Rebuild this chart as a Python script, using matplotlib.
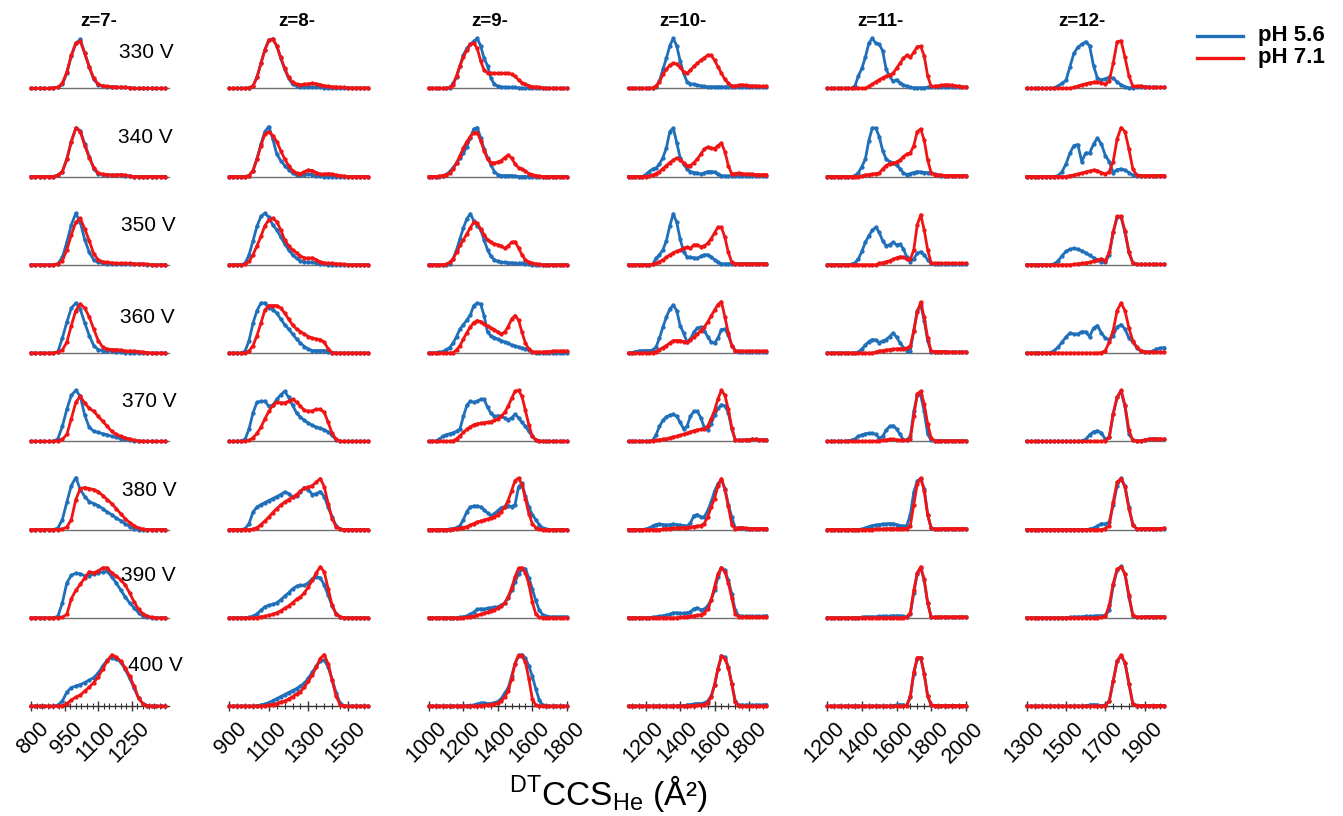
import matplotlib
matplotlib.use("Agg")
import matplotlib.pyplot as plt
from matplotlib.lines import Line2D
from matplotlib.ticker import FixedLocator
import matplotlib.transforms as mtransforms
import numpy as np

plt.rcParams['font.family'] = ['Liberation Sans', 'DejaVu Sans']
plt.rcParams['mathtext.fontset'] = 'custom'
plt.rcParams['mathtext.rm'] = 'Liberation Sans'

# labels
voltages = ['330 V', '340 V', '350 V', '360 V', '370 V', '380 V', '390 V', '400 V']
charges = ['z=7-', 'z=8-', 'z=9-', 'z=10-', 'z=11-', 'z=12-']
series_names = ['pH 5.6', 'pH 7.1']

# CCS sampling (A^2) for each charge state
ccs_z7 = [800, 820, 840, 860, 880, 900, 920, 940, 960, 980, 1000, 1020, 1040, 1060, 1080, 1100,
          1120, 1140, 1160, 1180, 1200, 1220, 1240, 1260, 1280, 1300, 1320, 1340, 1360, 1380, 1400]
ccs_z8 = [900, 920, 940, 960, 980, 1000, 1020, 1040, 1060, 1080, 1100, 1120, 1140, 1160, 1180, 1200,
          1220, 1240, 1260, 1280, 1300, 1320, 1340, 1360, 1380, 1400, 1420, 1440, 1460, 1480, 1500,
          1520, 1540, 1560, 1580, 1600]
ccs_z9 = [1000, 1020, 1040, 1060, 1080, 1100, 1120, 1140, 1160, 1180, 1200, 1220, 1240, 1260, 1280,
          1300, 1320, 1340, 1360, 1380, 1400, 1420, 1440, 1460, 1480, 1500, 1520, 1540, 1560, 1580,
          1600, 1620, 1640, 1660, 1680, 1700, 1720, 1740, 1760, 1780, 1800]
ccs_z10 = [1100, 1120, 1140, 1160, 1180, 1200, 1220, 1240, 1260, 1280, 1300, 1320, 1340, 1360, 1380,
           1400, 1420, 1440, 1460, 1480, 1500, 1520, 1540, 1560, 1580, 1600, 1620, 1640, 1660, 1680,
           1700, 1720, 1740, 1760, 1780, 1800, 1820, 1840, 1860, 1880, 1900]
ccs_z11 = [1200, 1220, 1240, 1260, 1280, 1300, 1320, 1340, 1360, 1380, 1400, 1420, 1440, 1460, 1480,
           1500, 1520, 1540, 1560, 1580, 1600, 1620, 1640, 1660, 1680, 1700, 1720, 1740, 1760, 1780,
           1800, 1820, 1840, 1860, 1880, 1900, 1920, 1940, 1960, 1980, 2000]
ccs_z12 = [1300, 1320, 1340, 1360, 1380, 1400, 1420, 1440, 1460, 1480, 1500, 1520, 1540, 1560, 1580,
           1600, 1620, 1640, 1660, 1680, 1700, 1720, 1740, 1760, 1780, 1800, 1820, 1840, 1860, 1880,
           1900, 1920, 1940, 1960, 1980, 2000]

# relative intensity, one list per voltage (330 ... 400 V)
z7_ph56 = [
    [0,0,0,0,0,.01,.02,.08,.3,.65,.9,.98,.7,.42,.18,.07,.04,.03,.03,.02,.02,.02,.01,0,0,0,0,0,0,0,0],
    [0,0,0,0,0,0,.03,.1,.35,.7,.97,.92,.65,.4,.16,.05,.04,.03,.03,.03,.03,.02,.01,0,0,0,0,0,0,0,0],
    [0,0,0,0,0,0,.02,.15,.45,.8,1.03,.85,.5,.25,.1,.05,.03,.02,.02,.02,.02,.02,.01,.01,.01,.01,0,0,0,0,0],
    [0,0,0,0,0,0,.03,.3,.62,.9,1.0,.88,.6,.35,.15,.07,.05,.04,.04,.03,.02,.01,0,0,0,0,0,0,0,0,0],
    [0,0,0,0,0,0,.05,.3,.64,.92,1.02,.9,.52,.28,.2,.18,.15,.13,.1,.08,.05,.04,.03,.01,0,0,0,0,0,0,0],
    [0,0,0,0,0,0,.03,.2,.55,.88,1.04,.8,.66,.56,.52,.48,.42,.35,.3,.23,.18,.12,.06,.02,0,0,0,0,0,0,0],
    [0,0,0,0,0,0,.03,.3,.7,.85,.89,.88,.84,.84,.88,.9,.92,.93,.82,.7,.56,.42,.3,.2,.1,.03,.01,0,0,0,0],
    [0,0,0,0,0,0,.02,.1,.28,.37,.4,.43,.47,.52,.57,.66,.8,.92,.97,.95,.88,.74,.56,.36,.16,.05,.01,0,0,0,0],
]
z7_ph71 = [
    [0,0,0,0,0,.01,.02,.1,.33,.66,.9,.94,.7,.43,.2,.08,.05,.04,.03,.03,.02,.02,.01,0,0,0,0,0,0,0,0],
    [0,0,0,0,0,0,.03,.1,.35,.7,.97,.9,.62,.38,.18,.07,.05,.04,.03,.03,.04,.03,.01,0,0,0,0,0,0,0,0],
    [0,0,0,0,0,0,.02,.08,.3,.6,.85,.93,.72,.48,.22,.1,.06,.05,.04,.03,.03,.03,.03,.02,.02,.02,.01,0,0,0,0],
    [0,0,0,0,0,0,.02,.06,.22,.55,.85,.98,.9,.72,.48,.25,.12,.08,.07,.07,.06,.04,.04,.04,.03,.02,.01,0,0,0,0],
    [0,0,0,0,0,0,.01,.04,.14,.45,.78,.9,.76,.66,.6,.5,.4,.3,.2,.14,.1,.07,.05,.02,.01,0,0,0,0,0,0],
    [0,0,0,0,0,0,0,.01,.05,.2,.6,.82,.84,.82,.8,.76,.68,.6,.52,.42,.32,.22,.14,.08,.03,.01,0,0,0,0,0],
    [0,0,0,0,0,0,0,.01,.07,.38,.55,.67,.8,.92,.9,.94,1.0,1.0,.9,.84,.76,.66,.5,.32,.17,.08,.03,.01,0,0,0],
    [0,0,0,0,0,0,0,.01,.05,.12,.18,.22,.3,.38,.47,.58,.74,.9,1.02,.98,.9,.77,.6,.4,.16,.04,.01,0,0,0,0],
]

z8_ph56 = [
    [0,0,0,0,0,.01,.05,.22,.5,.77,.97,.99,.85,.6,.38,.2,.08,.05,.03,.02,.03,.03,.02,.02,.01,0,0,0,0,0,0,0,0,0,0,0],
    [0,0,0,0,0,.02,.12,.36,.65,.9,1.0,.75,.45,.32,.22,.14,.07,.03,.03,.04,.05,.04,.02,.01,0,0,0,0,0,0,0,0,0,0,0,0],
    [0,0,0,0,.03,.2,.48,.77,.97,1.03,.95,.8,.7,.56,.42,.3,.2,.13,.08,.06,.05,.05,.03,.02,.01,0,0,0,0,0,0,0,0,0,0,0],
    [0,0,0,0,.04,.25,.6,.85,1.0,1.0,.9,.87,.8,.68,.57,.48,.38,.28,.2,.13,.08,.05,.05,.05,.05,.03,.01,0,0,0,0,0,0,0,0,0],
    [0,0,0,.01,.04,.25,.57,.78,.8,.8,.7,.72,.84,.93,1.0,.88,.72,.57,.48,.42,.36,.32,.28,.26,.23,.19,.12,.03,0,0,0,0,0,0,0,0],
    [0,0,0,0,.02,.12,.35,.45,.5,.54,.58,.62,.66,.7,.75,.72,.65,.68,.76,.84,.8,.7,.72,.76,.66,.45,.25,.08,.01,0,0,0,0,0,0,0],
    [0,0,0,0,0,.01,.03,.08,.15,.22,.25,.27,.3,.36,.43,.5,.58,.63,.65,.65,.7,.78,.82,.8,.66,.45,.24,.08,.02,0,0,0,0,0,0,0],
    [0,0,0,0,0,0,0,.01,.02,.04,.07,.11,.15,.19,.23,.27,.31,.35,.4,.46,.56,.68,.8,.9,.92,.78,.53,.27,.06,.01,0,0,0,0,0,0],
]
z8_ph71 = [
    [0,0,0,0,0,.01,.05,.22,.5,.77,.96,.98,.85,.62,.4,.22,.12,.08,.07,.08,.09,.1,.09,.07,.05,.04,.03,.03,.02,.02,.01,.01,.01,.01,.01,.01],
    [0,0,0,0,0,.02,.12,.35,.62,.85,.9,.82,.7,.52,.35,.22,.12,.07,.06,.1,.13,.12,.08,.05,.05,.06,.05,.03,.02,.01,0,0,0,0,0,0],
    [0,0,0,0,.01,.07,.2,.38,.57,.78,.9,.93,.86,.7,.5,.38,.3,.24,.17,.14,.13,.14,.1,.06,.04,.03,.03,.02,.02,.01,0,0,0,0,0,0],
    [0,0,0,0,0,.04,.15,.35,.6,.86,.95,.95,.95,.9,.8,.68,.56,.48,.43,.38,.33,.3,.28,.27,.22,.08,.01,0,0,0,0,0,0,0,0,0],
    [0,0,0,0,0,.02,.07,.16,.28,.45,.6,.72,.78,.77,.77,.8,.84,.78,.7,.62,.6,.61,.64,.64,.58,.38,.16,.04,0,0,0,0,0,0,0,0],
    [0,0,0,0,0,0,.01,.04,.1,.17,.25,.34,.42,.49,.55,.6,.65,.7,.77,.83,.85,.88,.95,1.02,.86,.52,.22,.06,.01,0,0,0,0,0,0,0],
    [0,0,0,0,0,0,0,0,.02,.03,.05,.07,.1,.14,.19,.24,.3,.37,.42,.5,.62,.75,.9,1.02,.92,.58,.25,.08,.02,0,0,0,0,0,0,0],
    [0,0,0,0,0,0,0,0,0,.01,.02,.03,.05,.08,.1,.14,.19,.24,.29,.38,.5,.62,.78,.95,1.03,.84,.52,.2,.03,0,0,0,0,0,0,0],
]

z9_ph56 = [
    [0,0,0,0,0,0,.01,.1,.23,.45,.67,.8,.88,.94,1.0,.85,.6,.45,.2,.08,.04,.03,.02,.02,.02,.02,.01,0,0,0,0,0,0,0,0,0,0,0,0,0,0],
    [0,0,0,0,.01,.04,.1,.18,.27,.37,.47,.6,.78,.95,.98,.78,.55,.38,.23,.1,.04,.02,.02,.02,.02,.01,0,0,0,0,0,0,0,0,0,0,0,0,0,0,0],
    [0,0,0,0,0,0,.02,.12,.3,.52,.74,.92,1.02,.88,.78,.7,.5,.3,.17,.1,.07,.05,.05,.04,.04,.03,.03,.03,.02,.01,0,0,0,0,0,0,0,0,0,0,0],
    [0,0,.01,.02,.03,.07,.11,.2,.33,.48,.57,.66,.76,.95,1.0,.98,.75,.42,.34,.31,.28,.25,.22,.2,.16,.14,.12,.1,.09,.06,.02,.01,0,0,0,0,0,0,0,0,0],
    [0,0,.01,.04,.1,.13,.15,.17,.2,.25,.5,.72,.8,.78,.8,.84,.84,.68,.56,.5,.51,.5,.47,.43,.47,.54,.47,.38,.3,.2,.1,.03,.01,0,0,0,0,0,0,0,0],
    [0,0,0,0,0,0,.01,.02,.04,.08,.2,.36,.45,.47,.47,.45,.4,.33,.28,.32,.38,.44,.46,.48,.46,.5,.85,.93,.67,.45,.3,.2,.1,.03,.01,0,0,0,0,0,0],
    [0,0,0,0,0,0,0,0,0,.01,.02,.04,.07,.11,.17,.18,.17,.19,.2,.21,.22,.25,.3,.4,.55,.72,.88,.97,.98,.8,.58,.35,.16,.06,.03,.02,.02,.02,.02,.02,.02],
    [0,0,0,0,0,0,0,0,0,0,0,.01,.01,.02,.04,.06,.06,.05,.05,.07,.09,.15,.26,.36,.6,.85,1.0,1.03,.96,.8,.6,.35,.13,.02,.01,0,0,0,0,0,0],
]
z9_ph71 = [
    [0,0,0,0,0,0,.02,.07,.25,.45,.63,.76,.88,.9,.8,.55,.36,.31,.3,.3,.3,.3,.3,.3,.28,.24,.17,.11,.08,.05,.03,.03,.02,.01,0,0,0,0,0,0,0],
    [0,0,0,.01,.02,.04,.07,.15,.27,.42,.57,.7,.8,.88,.88,.72,.52,.35,.28,.27,.29,.32,.38,.43,.37,.25,.18,.15,.11,.06,.04,.02,.01,0,0,0,0,0,0,0,0],
    [0,0,0,0,0,.01,.05,.12,.25,.39,.5,.62,.74,.85,.83,.72,.6,.5,.45,.42,.4,.38,.33,.38,.45,.46,.34,.2,.1,.05,.03,.02,.01,0,0,0,0,0,0,0,0],
    [0,0,0,0,0,0,0,.01,.06,.15,.28,.41,.52,.61,.65,.63,.58,.54,.5,.47,.42,.38,.42,.53,.68,.75,.66,.42,.2,.08,.03,.02,.02,.02,.03,.03,.04,.04,.04,.04,.04],
    [0,0,0,0,0,0,0,.01,.05,.11,.18,.24,.29,.33,.35,.36,.37,.38,.39,.42,.45,.5,.58,.7,.86,1.0,1.02,.9,.62,.33,.1,.03,.01,0,0,0,0,0,0,0,0],
    [0,0,0,0,0,0,0,.01,.02,.03,.04,.06,.09,.12,.15,.17,.19,.21,.23,.26,.3,.36,.45,.58,.78,.98,1.03,.9,.62,.32,.12,.04,.01,0,0,0,0,0,0,0,0],
    [0,0,0,0,0,0,0,0,0,0,0,.01,.02,.03,.05,.07,.09,.11,.14,.16,.2,.23,.3,.42,.6,.82,.99,1.0,.9,.68,.32,.08,.01,0,0,0,0,0,0,0,0],
    [0,0,0,0,0,0,0,0,0,0,0,0,0,0,0,.01,.02,.02,.03,.04,.06,.11,.18,.3,.55,.85,1.02,1.0,.88,.55,.15,.02,0,0,0,0,0,0,0,0,0],
]

z10_ph56 = [
    [0,0,0,0,0,0,0,0,.02,.15,.38,.6,.85,1.0,.85,.55,.3,.13,.09,.08,.06,.05,.04,.03,.03,.03,.03,.03,.03,.03,.03,.03,.03,.03,.02,.02,.02,.02,.02,.02,.02],
    [0,0,0,0,0,.04,.1,.15,.17,.25,.38,.57,.9,.97,.68,.38,.25,.15,.1,.08,.07,.05,.07,.1,.1,.09,.05,.02,.01,.01,.01,.01,.01,.01,.01,.01,.01,.01,.01,.01,.01],
    [0,0,0,0,0,0,0,.01,.13,.2,.3,.48,.78,1.02,.85,.52,.26,.16,.15,.14,.13,.17,.2,.2,.16,.1,.05,.02,.02,.02,.02,.02,.02,.02,.02,.02,.02,.02,.02,.02,.02],
    [0,.01,.03,.04,.05,.05,.05,.06,.12,.3,.52,.72,.88,.96,.85,.55,.4,.22,.28,.42,.5,.52,.45,.33,.22,.2,.3,.47,.48,.36,.15,.05,.03,.03,.03,.03,.03,.03,.03,.03,.03],
    [0,0,0,0,0,0,0,.02,.13,.3,.42,.49,.52,.54,.5,.38,.25,.3,.5,.6,.6,.47,.28,.23,.35,.52,.66,.73,.71,.57,.25,.03,.02,.02,.03,.03,.04,.04,.03,.03,.03],
    [0,0,0,0,0,.01,.03,.07,.1,.11,.1,.09,.1,.11,.1,.09,.08,.07,.13,.28,.3,.25,.25,.38,.55,.77,.92,1.0,.82,.5,.25,.03,.03,.03,.02,.02,.02,.02,.02,.02,.02],
    [0,0,0,0,0,0,0,.01,.02,.03,.04,.05,.07,.1,.1,.09,.09,.1,.12,.18,.2,.16,.17,.24,.36,.55,.82,1.0,.95,.75,.48,.15,.04,.03,.03,.03,.03,.03,.03,.03,.04],
    [0,0,0,0,0,0,0,0,0,0,0,0,0,0,0,.01,.01,.02,.03,.04,.05,.05,.06,.1,.2,.42,.75,1.0,.98,.78,.45,.1,.02,.02,.02,.02,.02,.02,.02,.02,.03],
]
z10_ph71 = [
    [0,0,0,0,0,0,0,.01,.05,.13,.28,.38,.46,.5,.49,.42,.33,.3,.36,.44,.5,.56,.61,.66,.66,.56,.43,.3,.18,.1,.05,.05,.06,.07,.06,.05,.05,.05,.04,.04,.04],
    [0,0,0,0,0,0,.01,.03,.06,.1,.16,.22,.28,.33,.37,.34,.27,.22,.22,.28,.35,.45,.55,.59,.57,.56,.62,.67,.5,.22,.05,.06,.07,.06,.05,.05,.05,.04,.04,.04,.04],
    [0,0,0,0,0,0,0,.01,.03,.06,.1,.15,.2,.24,.27,.29,.33,.35,.33,.4,.4,.36,.38,.43,.52,.64,.75,.75,.55,.25,.05,.02,.02,.02,.02,.02,.02,.02,.02,.02,.02],
    [0,0,0,0,0,0,0,.01,.03,.07,.11,.15,.2,.25,.25,.25,.23,.22,.26,.32,.38,.45,.52,.62,.74,.86,.97,1.03,.72,.4,.15,.05,.04,.04,.04,.04,.04,.04,.04,.04,.04],
    [0,0,0,0,0,0,0,.01,.02,.03,.04,.05,.07,.09,.1,.12,.14,.16,.19,.21,.23,.24,.24,.3,.45,.62,.85,1.02,.92,.64,.27,.03,.02,.02,.03,.03,.04,.04,.03,.03,.03],
    [0,0,0,0,0,0,0,0,0,0,.01,.02,.02,.03,.03,.03,.04,.04,.05,.06,.07,.08,.12,.25,.45,.62,.88,1.02,.8,.47,.1,.02,.04,.04,.03,.02,.02,.02,.02,.02,.02],
    [0,0,0,0,0,0,0,0,0,0,0,0,0,0,0,.01,.02,.02,.03,.04,.05,.06,.1,.17,.35,.62,.88,1.0,.92,.7,.4,.08,.02,.02,.02,.02,.02,.02,.02,.02,.02],
    [0,0,0,0,0,0,0,0,0,0,0,0,0,0,0,0,0,0,.01,.01,.02,.02,.03,.07,.18,.42,.75,1.0,.95,.77,.45,.08,.01,0,0,0,0,0,0,0,0],
]

z11_ph56 = [
    [0,0,0,0,0,0,0,0,.05,.25,.4,.62,.9,1.0,.9,.88,.75,.38,.24,.14,.17,.11,.07,.04,.02,.01,.01,.01,.01,.02,.03,.03,.03,.03,.02,.02,.02,.02,.02,.02,.02],
    [0,0,0,0,0,0,0,0,.02,.08,.2,.35,.72,.97,.97,.8,.52,.35,.3,.27,.23,.16,.07,.04,.06,.08,.1,.09,.08,.08,.07,.05,.03,.02,.01,.01,.01,.01,.01,.01,.01],
    [0,0,0,0,0,0,0,.01,.04,.12,.27,.45,.58,.69,.75,.65,.48,.38,.4,.45,.4,.41,.32,.15,.06,.12,.23,.26,.2,.1,.03,.01,.02,.02,.02,.02,.02,.02,.02,.02,.02],
    [0,0,0,0,0,0,0,0,0,.02,.08,.16,.23,.27,.26,.21,.24,.27,.33,.4,.32,.21,.11,.05,.05,.45,.85,.96,.65,.25,.03,.02,.02,.02,.02,.02,.02,.02,.02,.02,.02],
    [0,0,0,0,0,0,.01,.02,.05,.1,.13,.15,.16,.16,.14,.06,.1,.22,.3,.31,.25,.14,.03,.03,.1,.6,.92,.92,.6,.15,.02,.01,.01,.01,.01,.01,.01,.01,.01,.01,.01],
    [0,0,0,0,0,0,0,0,0,0,.01,.03,.06,.08,.09,.1,.11,.11,.12,.12,.1,.08,.07,.08,.3,.75,.97,1.02,.82,.3,.03,.01,.01,.01,.01,.01,.01,.01,.01,.01,.01],
    [0,0,0,0,0,0,0,0,0,0,.01,.02,.02,.02,.02,.03,.03,.03,.03,.04,.04,.04,.03,.02,.08,.5,.88,1.0,.75,.3,.02,.01,.01,.01,.01,.01,.01,.01,.01,.01,.01],
    [0,0,0,0,0,0,0,0,0,0,0,0,0,0,0,0,0,0,0,.01,.02,.03,.02,.02,.18,.65,.95,.97,.65,.2,.02,.01,.01,.01,.01,.01,.01,.01,.01,.01,.01],
]
z11_ph71 = [
    [0,0,0,0,0,0,0,0,0,0,0,0,.04,.08,.13,.17,.21,.24,.26,.3,.4,.5,.6,.66,.62,.72,.83,.84,.65,.25,.04,.04,.05,.06,.07,.07,.06,.05,.04,.03,.03],
    [0,0,0,0,0,0,0,0,0,0,.01,.03,.04,.05,.06,.07,.15,.22,.26,.27,.29,.33,.4,.45,.47,.62,.9,.95,.73,.33,.08,.04,.03,.03,.02,.02,.02,.02,.02,.02,.02],
    [0,0,0,0,0,0,0,0,0,0,0,0,0,0,0,.03,.04,.06,.08,.11,.14,.16,.15,.11,.11,.3,.8,1.0,.7,.3,.04,.03,.03,.03,.03,.03,.03,.03,.03,.03,.03],
    [0,0,0,0,0,0,0,0,0,0,0,0,0,0,.02,.04,.05,.06,.07,.08,.08,.09,.09,.1,.14,.45,.82,1.02,.72,.3,.04,.03,.03,.03,.03,.02,.02,.02,.02,.02,.02],
    [0,0,0,0,0,0,0,0,0,0,0,0,0,0,0,.01,.02,.03,.04,.04,.03,.02,.02,.02,.05,.5,.95,1.0,.75,.35,.07,.01,.01,.01,.01,.01,.01,.01,.01,.01,.01],
    [0,0,0,0,0,0,0,0,0,0,0,0,0,0,.01,.01,.01,.02,.02,.02,.02,.02,.02,.02,.08,.5,.92,1.03,.78,.3,.03,.01,.01,.02,.02,.02,.02,.02,.02,.02,.02],
    [0,0,0,0,0,0,0,0,0,0,0,0,0,0,0,0,0,0,0,0,0,0,0,.02,.1,.55,.9,1.02,.77,.3,.02,.01,.02,.02,.02,.02,.02,.02,.02,.02,.02],
    [0,0,0,0,0,0,0,0,0,0,0,0,0,0,0,0,0,0,0,0,0,0,0,.01,.2,.68,.97,.97,.65,.2,.03,.01,.01,.01,.01,.01,.01,.01,.01,.01,.01],
]

z12_ph56 = [
    [0,0,0,0,0,0,0,.01,.05,.1,.16,.43,.7,.82,.88,.93,.85,.45,.2,.17,.19,.22,.2,.13,.07,.03,.01,.01,.02,.03,.03,.03,.02,.02,.02,.02],
    [0,0,0,0,0,0,0,0,.02,.1,.25,.47,.62,.64,.3,.47,.47,.65,.77,.65,.42,.3,.08,.14,.15,.13,.08,.03,.01,.01,.01,.01,.01,.01,.01,.01],
    [0,0,0,0,0,0,0,.02,.08,.18,.27,.31,.33,.31,.28,.24,.19,.14,.09,.06,.05,.2,.65,.95,.95,.65,.25,.04,.01,.01,.01,.01,.01,.01,.01,.01],
    [0,0,0,0,0,0,.01,.05,.12,.22,.32,.4,.38,.38,.43,.42,.33,.5,.55,.4,.3,.27,.35,.52,.57,.48,.3,.22,.11,.04,.02,.02,.04,.08,.1,.11],
    [0,0,0,0,0,0,0,0,0,0,0,0,0,0,.01,.04,.13,.19,.21,.17,.04,.08,.55,.88,1.0,.7,.15,.02,.01,.01,.02,.04,.05,.05,.04,.04],
    [0,0,0,0,0,0,0,0,0,0,0,0,0,0,0,0,.01,.03,.07,.12,.11,.15,.5,.87,1.03,.87,.45,.1,.01,.01,.02,.02,.02,.02,.02,.02],
    [0,0,0,0,0,0,0,0,0,0,0,.01,.02,.02,.02,.03,.03,.03,.04,.04,.05,.15,.65,.95,1.03,.88,.42,.04,.01,.01,.02,.02,.02,.02,.02,.02],
    [0,0,0,0,0,0,0,0,0,0,0,0,0,0,0,.01,.02,.03,.02,.01,.02,.1,.5,.9,1.0,.87,.45,.04,.01,.01,.01,.01,.01,.01,.01,.01],
]
z12_ph71 = [
    [0,0,0,0,0,0,0,0,0,0,0,0,.02,.04,.07,.09,.11,.12,.13,.11,.08,.15,.5,.93,.95,.62,.25,.04,.04,.05,.03,.02,.02,.02,.02,.02],
    [0,0,0,0,0,0,0,0,0,0,0,.02,.03,.05,.07,.09,.11,.13,.12,.08,.05,.1,.3,.75,.98,.9,.55,.15,.03,.02,.02,.02,.02,.02,.02,.02],
    [0,0,0,0,0,0,0,0,0,0,0,0,.01,.02,.03,.04,.05,.07,.09,.12,.08,.25,.65,.97,.97,.68,.25,.03,.01,.01,.01,.01,.01,.01,.01,.01],
    [0,0,0,0,0,0,0,0,0,0,0,0,0,0,0,0,0,0,0,.01,.05,.22,.45,.85,1.0,.85,.5,.24,.12,.05,.03,.02,.02,.02,.02,.02],
    [0,0,0,0,0,0,0,0,0,0,0,0,0,0,0,0,0,0,0,0,.01,.08,.55,.88,1.02,.72,.22,.02,.01,.01,.03,.04,.05,.05,.05,.04],
    [0,0,0,0,0,0,0,0,0,0,0,0,0,0,0,0,0,0,0,0,.02,.08,.55,.95,1.02,.85,.42,.1,.01,.02,.02,.02,.02,.02,.02,.03],
    [0,0,0,0,0,0,0,0,0,0,0,0,0,0,0,0,0,0,0,.01,.03,.25,.68,.97,1.02,.88,.45,.05,.01,.02,.02,.02,.02,.02,.02,.02],
    [0,0,0,0,0,0,0,0,0,0,0,0,0,0,0,0,0,0,0,0,.01,.1,.5,.9,1.02,.87,.45,.04,.01,.01,.01,.01,.01,.01,.01,.01],
]

columns = [
    (ccs_z7, z7_ph56, z7_ph71),
    (ccs_z8, z8_ph56, z8_ph71),
    (ccs_z9, z9_ph56, z9_ph71),
    (ccs_z10, z10_ph56, z10_ph71),
    (ccs_z11, z11_ph56, z11_ph71),
    (ccs_z12, z12_ph56, z12_ph71),
]

# axis ranges and ticks per charge state
xlims = [(800, 1416), (900, 1600), (1000, 1800), (1093, 1903), (1200, 2000), (1300, 2000)]
major_ticks = [[800, 950, 1100, 1250], [900, 1100, 1300, 1500], [1000, 1200, 1400, 1600, 1800],
               [1200, 1400, 1600, 1800], [1200, 1400, 1600, 1800, 2000], [1300, 1500, 1700, 1900]]
minor_step = [25, 40, 40, 40, 40, 40]

BLUE = '#1f6fba'
RED = '#f01414'

W, H = 1343, 816
fig = plt.figure(figsize=(W / 100, H / 100), dpi=100)

# layout in pixels
col_px = [(31, 169), (229.3, 367.7), (429, 566.7), (627.3, 766.7), (827.3, 965.7), (1026.7, 1164.3)]
baselines = [88.3 + 88.25 * i for i in range(8)]
ax_h = 53

# offset of the rotated tick labels from the tick foot (right / down)
label_off = mtransforms.ScaledTranslation(7 / 100, -12 / 100, fig.dpi_scale_trans)

for c, (ccs, blue, red) in enumerate(columns):
    x0, x1 = col_px[c]
    for r in range(8):
        b = baselines[r]
        ax = fig.add_axes([x0 / W, (H - b) / H, (x1 - x0) / W, ax_h / H])
        ax.patch.set_alpha(0)
        ax.plot(ccs, blue[r], color=BLUE, lw=2.0, marker='o', ms=3.1, mew=0,
                clip_on=False, zorder=3)
        ax.plot(ccs, red[r], color=RED, lw=2.0, marker='o', ms=3.1, mew=0,
                clip_on=False, zorder=4)
        ax.set_xlim(*xlims[c])
        ax.set_ylim(0, 1.06)
        for s in ['top', 'right', 'left']:
            ax.spines[s].set_visible(False)
        ax.spines['bottom'].set_linewidth(1.0)
        ax.set_yticks([])
        if r < 7:
            ax.spines['bottom'].set_color('#707070')
            ax.set_xticks([])
        else:
            ax.spines['bottom'].set_color('#333333')
            lo, hi = xlims[c]
            ax.xaxis.set_minor_locator(FixedLocator(np.arange(major_ticks[c][0] - minor_step[c] * 10,
                                                              hi + 1, minor_step[c])))
            ax.set_xticks(major_ticks[c])
            ax.set_xticklabels([])
            ax.tick_params(axis='x', which='major', direction='inout', length=7, width=1,
                           color='#333333')
            ax.tick_params(axis='x', which='minor', direction='inout', length=4.5, width=0.8,
                           color='#333333')
            for t in major_ticks[c]:
                ax.text(t, 0, str(t), transform=ax.transData + label_off, rotation=45,
                        ha='right', va='top', rotation_mode='anchor', fontsize=15.5,
                        clip_on=False)
            ax.set_xlim(*xlims[c])

# column titles
title_x = [99, 297, 490, 683, 880, 1082]
for c, name in enumerate(charges):
    fig.text(title_x[c] / W, 1 - 21 / H, name, ha='center', va='center',
             fontsize=13.5, fontweight='bold')

# voltage labels
volt_right = [174, 173, 176, 175, 177, 177, 176, 183]
volt_cy = [52.5, 137.5, 225.5, 317.5, 401.5, 490.5, 575.5, 665.5]
for r, v in enumerate(voltages):
    fig.text(volt_right[r] / W, 1 - volt_cy[r] / H, v, ha='right', va='center', fontsize=15)

# legend
for i, (name, col) in enumerate(zip(series_names, [BLUE, RED])):
    y = 1 - (36 + 22 * i) / H
    fig.add_artist(Line2D([1197 / W, 1243 / W], [y, y], color=col, lw=2.4))
    fig.text(1258 / W, y, name, ha='left', va='center', fontsize=16, fontweight='bold')

fig.text(608 / W, 1 - 793 / H, r'$\mathregular{^{DT}CCS_{He}}$ (Å²)', ha='center',
         va='center', fontsize=24)

fig.savefig('out.png', dpi=100)
